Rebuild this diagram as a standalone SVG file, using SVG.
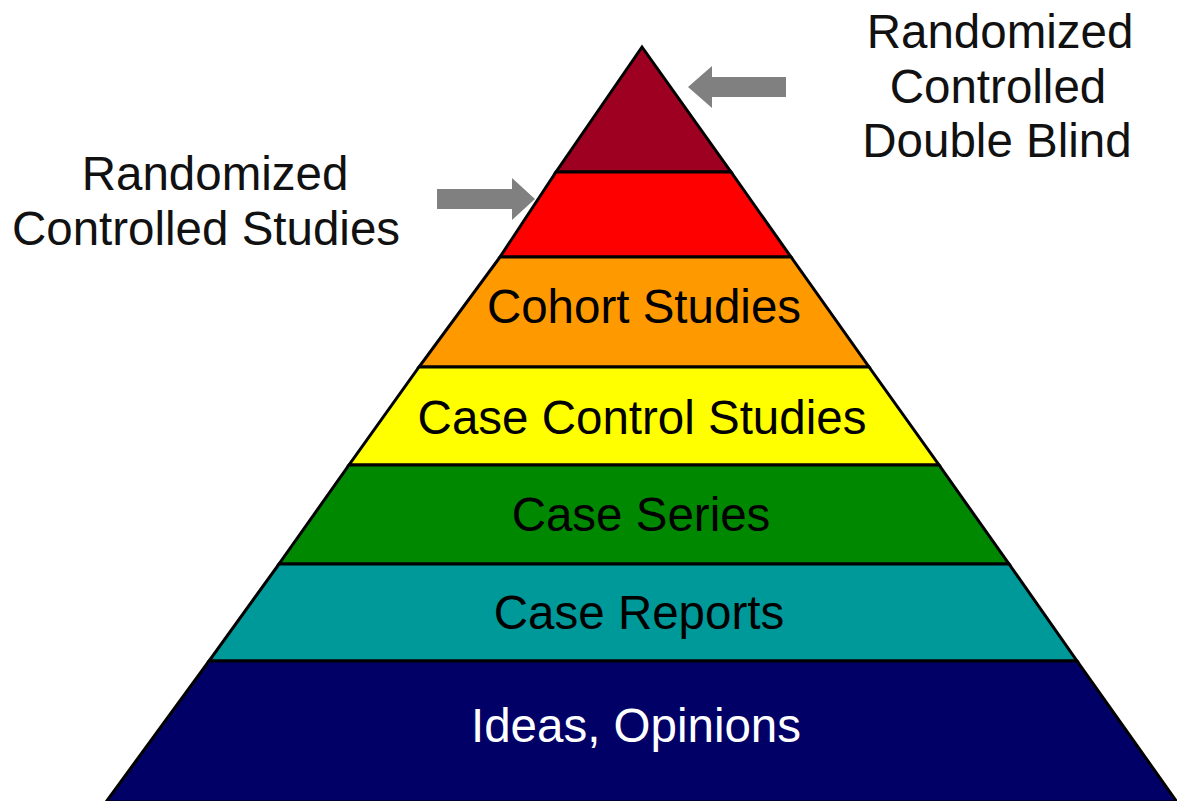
<svg xmlns="http://www.w3.org/2000/svg" width="1177" height="801" viewBox="0 0 1177 801">
<style>
.band{stroke:#000;stroke-width:3;stroke-linejoin:miter}
.lbl{font-family:"Liberation Sans",Arial,sans-serif;font-size:47.5px;text-anchor:middle;fill:#000}
.side{font-family:"Liberation Sans",Arial,sans-serif;font-size:47.5px;text-anchor:middle;fill:#111}
.arrow{fill:#808080}
</style>
<rect width="1177" height="801" fill="#fff"/>
<g id="level-rct-double-blind"><polygon class="band" fill="#9E0022" points="642,47 731,172 556,172"/></g>
<g id="level-rct"><polygon class="band" fill="#FF0000" points="556,172 731,172 791,257 500,257"/></g>
<g id="level-cohort"><polygon class="band" fill="#FF9900" points="500,257 791,257 869,367 419,367"/><text class="lbl" x="644" y="323">Cohort Studies</text></g>
<g id="level-case-control"><polygon class="band" fill="#FFFF00" points="419,367 869,367 939,465 349,465"/><text class="lbl" x="642" y="434">Case Control Studies</text></g>
<g id="level-case-series"><polygon class="band" fill="#008800" points="349,465 939,465 1009,564 279,564"/><text class="lbl" x="641" y="531">Case Series</text></g>
<g id="level-case-reports"><polygon class="band" fill="#009999" points="279,564 1009,564 1077,661 209,661"/><text class="lbl" x="639" y="629">Case Reports</text></g>
<g id="level-ideas"><polygon class="band" fill="#000066" points="209,661 1077,661 1177,802 106,802"/><text class="lbl" x="636" y="742" style="fill:#fff">Ideas, Opinions</text></g>
<g id="label-rct-double-blind"><text class="side" x="1000" y="48">Randomized</text><text class="side" x="998" y="103">Controlled</text><text class="side" x="997" y="157">Double Blind</text></g>
<g id="label-rct"><text class="side" x="215" y="190">Randomized</text><text class="side" x="206" y="245">Controlled Studies</text></g>
<g id="connectors">
<polygon class="arrow" points="688,87 712,66 712,77 786,77 786,97 712,97 712,108"/>
<polygon class="arrow" points="535,199 512,178 512,189 437,189 437,209 512,209 512,220"/>
</g>
</svg>
